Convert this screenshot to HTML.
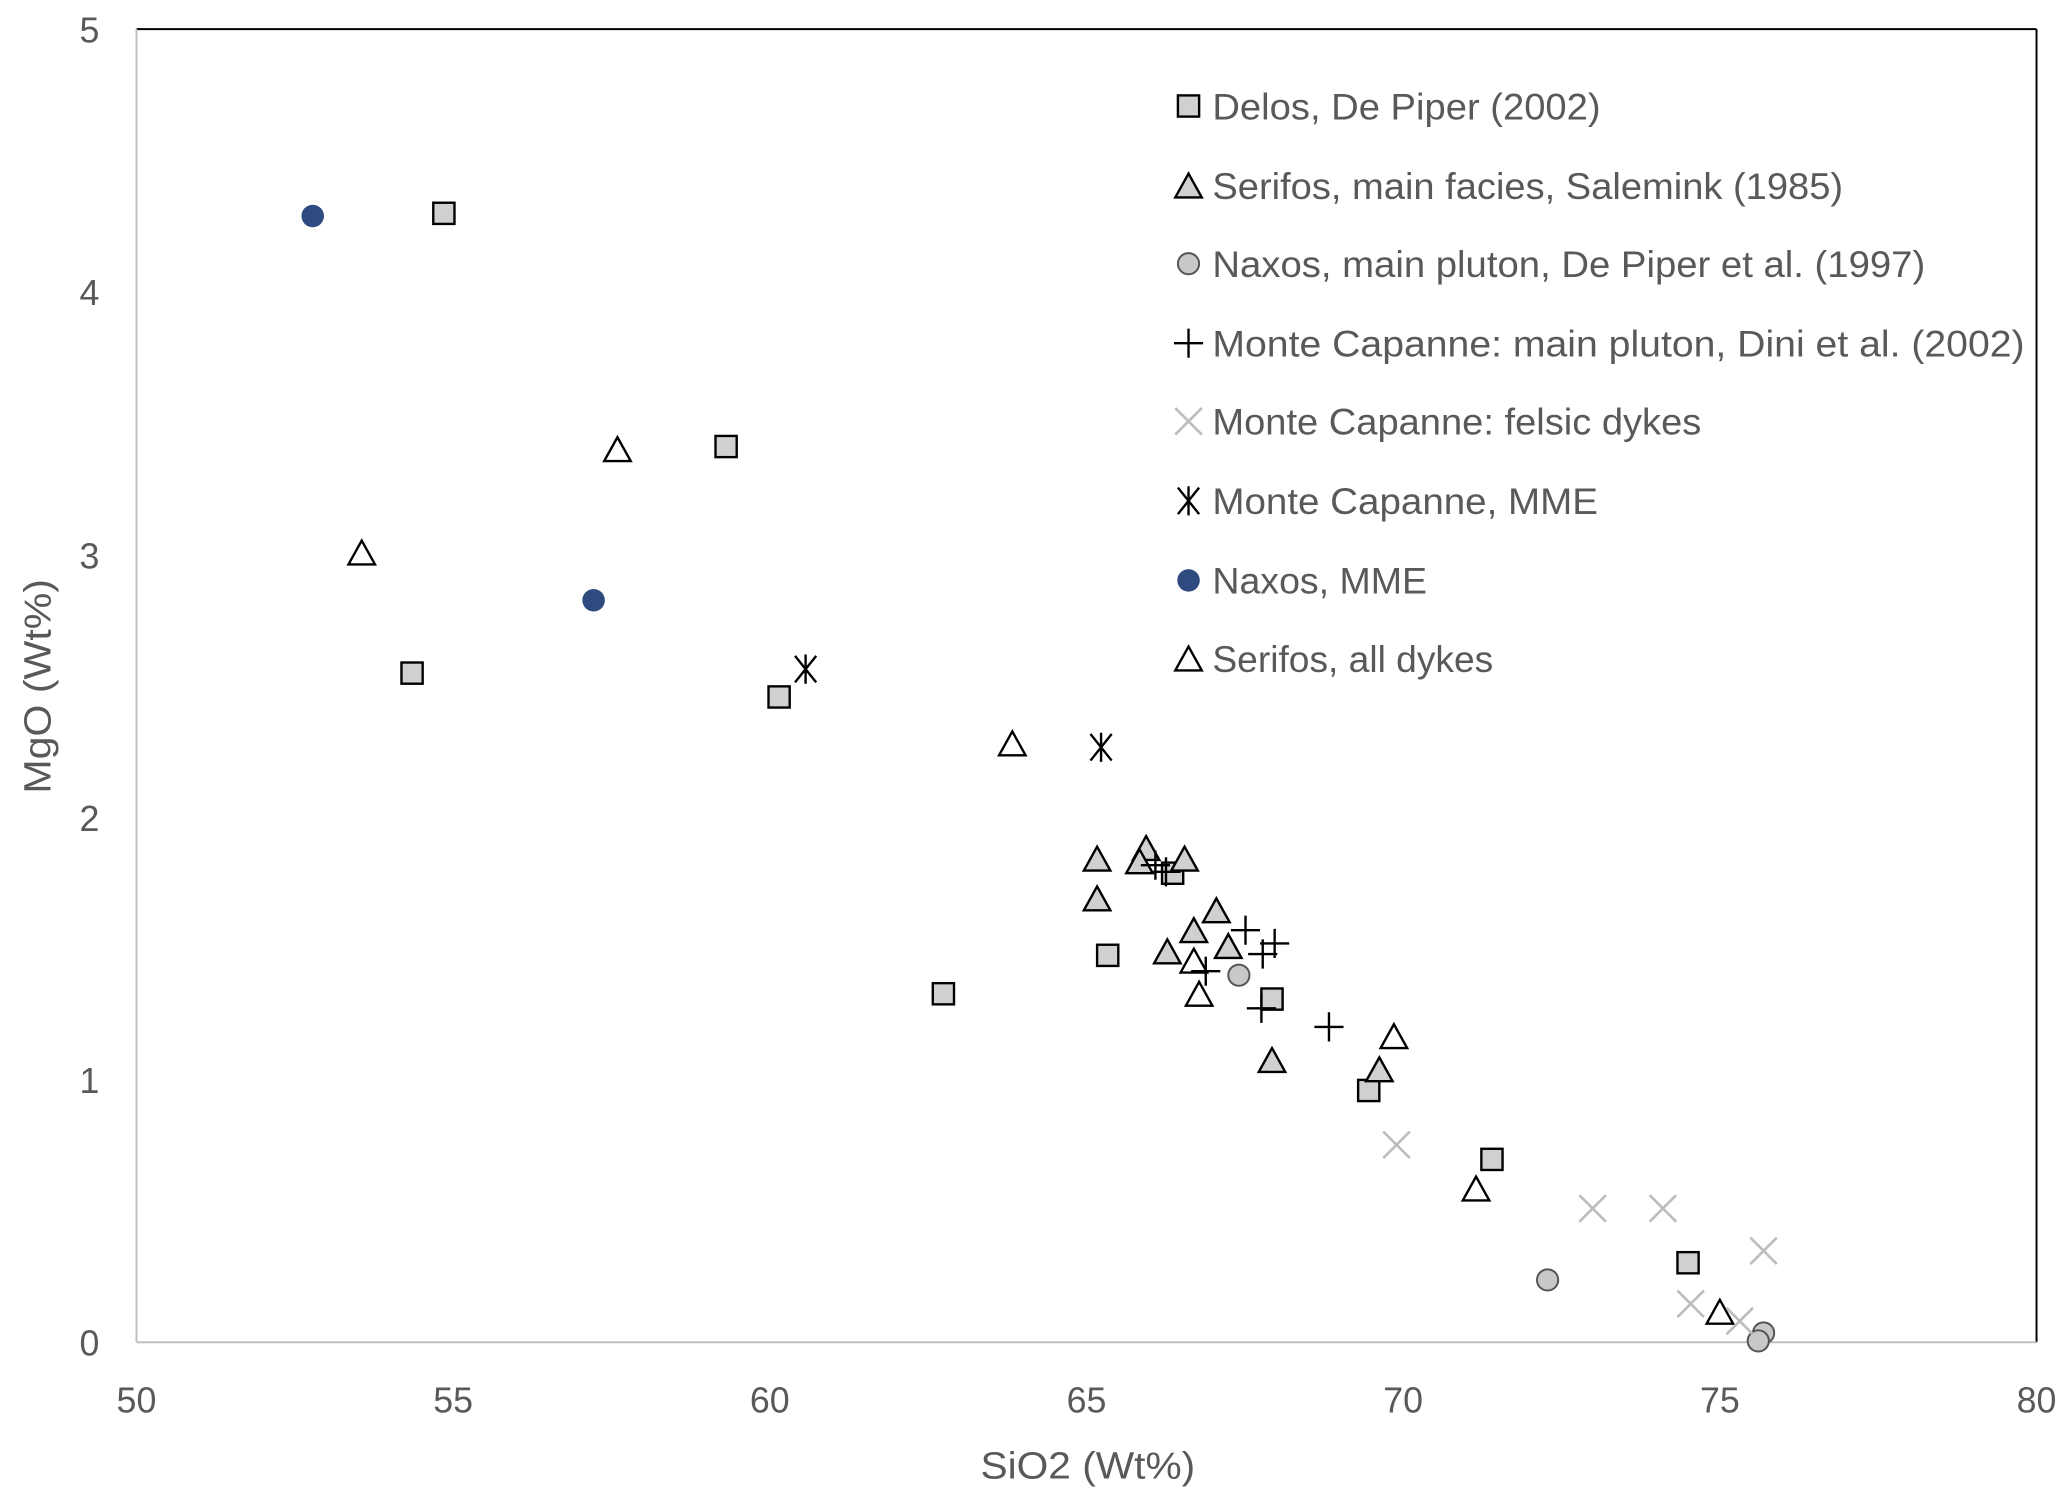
<!DOCTYPE html>
<html><head><meta charset="utf-8"><style>html,body{margin:0;padding:0;background:#fff}svg{display:block}</style></head>
<body>
<svg width="2067" height="1497" viewBox="0 0 1560 1129.8" preserveAspectRatio="none" xmlns="http://www.w3.org/2000/svg" font-family="Liberation Sans, sans-serif">
<defs>
<rect id="sq" x="-8" y="-8" width="16" height="16" fill="#d0d0d0" stroke="#000" stroke-width="1.8"/>
<polygon id="tg" points="0,-10 10,8 -10,8" fill="#d0d0d0" stroke="#000" stroke-width="1.8"/>
<polygon id="to" points="0,-10 10,8 -10,8" fill="#fff" stroke="#000" stroke-width="1.8"/>
<circle id="ci" r="8" fill="#c8c8c8" stroke="#555" stroke-width="1.5"/>
<path id="pl" d="M-11,0H11M0,-11V11" stroke="#000" stroke-width="1.8" fill="none"/>
<path id="xx" d="M-10,-10L10,10M-10,10L10,-10" stroke="#bdbdbd" stroke-width="2" fill="none"/>
<path id="as" d="M-8,-10L8,10M-8,10L8,-10M0,-11V11" stroke="#000" stroke-width="1.8" fill="none"/>
<circle id="bl" r="8.5" fill="#2e4a7e"/>
</defs>
<line x1="103" y1="22" x2="1537" y2="22" stroke="#000" stroke-width="1.5"/>
<line x1="1537" y1="22" x2="1537" y2="1013" stroke="#000" stroke-width="1.5"/>
<line x1="103" y1="22" x2="103" y2="1013" stroke="#bfbfbf" stroke-width="1.5"/>
<line x1="103" y1="1013" x2="1537" y2="1013" stroke="#bfbfbf" stroke-width="1.5"/>
<g fill="#595959" font-size="27">
<g text-anchor="end">
<text x="75" y="1023">0</text><text x="75" y="825">1</text><text x="75" y="627">2</text><text x="75" y="429">3</text><text x="75" y="230">4</text><text x="75" y="32">5</text>
</g>
<g text-anchor="middle">
<text x="103" y="1066">50</text><text x="342" y="1066">55</text><text x="581" y="1066">60</text><text x="820" y="1066">65</text><text x="1059" y="1066">70</text><text x="1298" y="1066">75</text><text x="1537" y="1066">80</text>
<text x="821" y="1116" font-size="29" textLength="162" lengthAdjust="spacingAndGlyphs">SiO2 (Wt%)</text>
<text transform="translate(38,518) rotate(-90)" font-size="29" textLength="162" lengthAdjust="spacingAndGlyphs">MgO (Wt%)</text>
</g>
</g>
<use href="#sq" x="335" y="161"/><use href="#sq" x="548" y="337"/><use href="#sq" x="311" y="508"/><use href="#sq" x="588" y="526"/><use href="#sq" x="712" y="750"/><use href="#sq" x="836" y="721"/><use href="#sq" x="885" y="659"/><use href="#sq" x="960" y="754"/><use href="#sq" x="1033" y="823"/><use href="#sq" x="1126" y="875"/><use href="#sq" x="1274" y="953"/>
<use href="#tg" x="828" y="649"/><use href="#tg" x="828" y="679"/><use href="#tg" x="865" y="641"/><use href="#tg" x="860" y="651"/><use href="#tg" x="894" y="649"/><use href="#tg" x="881" y="719"/><use href="#tg" x="901" y="703"/><use href="#tg" x="918" y="688"/><use href="#tg" x="927" y="715"/><use href="#tg" x="960" y="801"/><use href="#tg" x="1041" y="808"/>
<use href="#to" x="273" y="418"/><use href="#to" x="466" y="340"/><use href="#to" x="764" y="562"/><use href="#to" x="905" y="751"/><use href="#to" x="901" y="726"/><use href="#to" x="1052" y="783"/><use href="#to" x="1114" y="898"/><use href="#to" x="1298" y="991"/>
<use href="#ci" x="935" y="736"/><use href="#ci" x="1168" y="966"/><use href="#ci" x="1331" y="1006"/><use href="#ci" x="1327" y="1012"/>
<use href="#pl" x="872" y="653"/><use href="#pl" x="880" y="658"/><use href="#pl" x="940" y="702"/><use href="#pl" x="953" y="720"/><use href="#pl" x="962" y="712"/><use href="#pl" x="910" y="733"/><use href="#pl" x="952" y="761"/><use href="#pl" x="1003" y="775"/>
<use href="#xx" x="1054" y="864"/><use href="#xx" x="1202" y="912"/><use href="#xx" x="1255" y="912"/><use href="#xx" x="1331" y="944"/><use href="#xx" x="1276" y="984"/><use href="#xx" x="1313" y="997"/>
<use href="#as" x="608" y="505"/><use href="#as" x="831" y="564"/>
<use href="#bl" x="236" y="163"/><use href="#bl" x="448" y="453"/>
<g transform="translate(897,0)">
<use href="#sq" y="80"/>
<use href="#tg" y="141"/>
<use href="#ci" y="199"/>
<use href="#pl" y="259"/>
<use href="#xx" y="318"/>
<use href="#as" y="378"/>
<use href="#bl" y="438"/>
<use href="#to" y="498"/>
</g>
<g fill="#595959" font-size="28" lengthAdjust="spacingAndGlyphs">
<text x="915" y="90" textLength="293" lengthAdjust="spacingAndGlyphs">Delos, De Piper (2002)</text>
<text x="915" y="150" textLength="476" lengthAdjust="spacingAndGlyphs">Serifos, main facies, Salemink (1985)</text>
<text x="915" y="209" textLength="538" lengthAdjust="spacingAndGlyphs">Naxos, main pluton, De Piper et al. (1997)</text>
<text x="915" y="269" textLength="613" lengthAdjust="spacingAndGlyphs">Monte Capanne: main pluton, Dini et al. (2002)</text>
<text x="915" y="328" textLength="369" lengthAdjust="spacingAndGlyphs">Monte Capanne: felsic dykes</text>
<text x="915" y="388" textLength="291" lengthAdjust="spacingAndGlyphs">Monte Capanne, MME</text>
<text x="915" y="448" textLength="162" lengthAdjust="spacingAndGlyphs">Naxos, MME</text>
<text x="915" y="507" textLength="212" lengthAdjust="spacingAndGlyphs">Serifos, all dykes</text>
</g>
</svg>
</body></html>
